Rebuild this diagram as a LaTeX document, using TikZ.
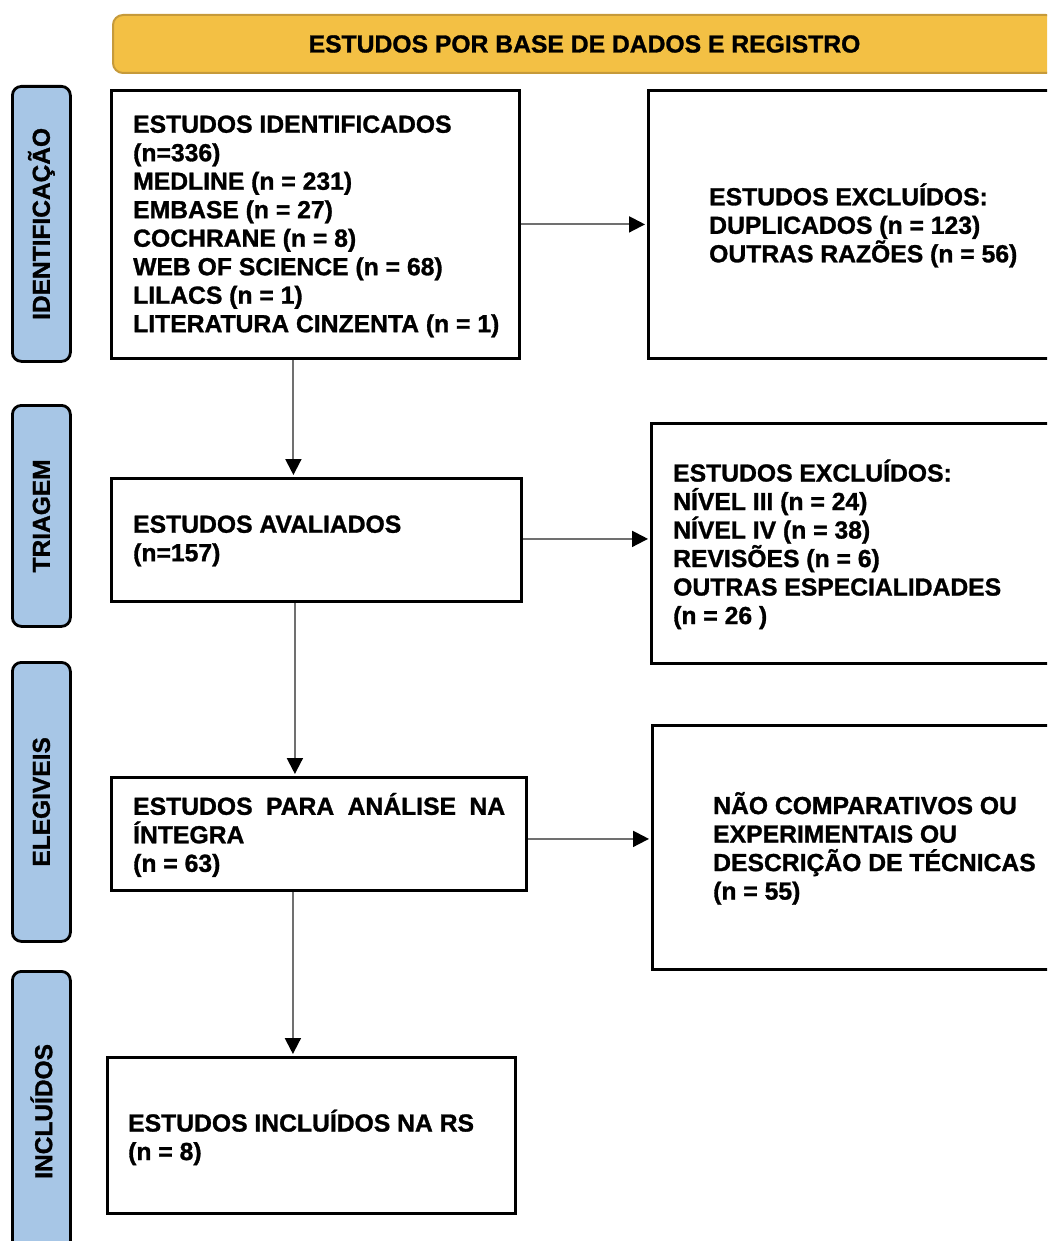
\documentclass[tikz,border=0pt]{standalone}
\usepackage{fontspec}
\setmainfont{Liberation Sans}[BoldFont={* Bold}, BoldFeatures={FakeBold=1.2}]
\usetikzlibrary{arrows.meta,positioning}
\definecolor{faixaAmarela}{RGB}{243,192,68}
\definecolor{bordaAmarela}{RGB}{198,154,58}
\definecolor{azulFase}{RGB}{167,198,230}
\definecolor{cinzaSeta}{RGB}{112,112,112}

\begin{document}
\begin{tikzpicture}[x=1pt,y=-1pt]
\tikzset{
    caixa/.style={
        rectangle, draw=black, line width=2.8pt,
        anchor=north west, inner sep=0pt
    },
    texto/.style={
        anchor=west, align=left, inner sep=0pt,
        font=\fontsize{24.7}{28.5}\selectfont\bfseries
    },
    fase/.style={
        rectangle, draw=black, line width=2.8pt, fill=azulFase,
        rounded corners=9pt, anchor=north west, inner sep=0pt,
        minimum width=58pt
    },
    rotulo/.style={
        rotate=90, inner sep=0pt,
        font=\fontsize{24.5}{28}\selectfont\bfseries
    },
    faixa/.style={
        rectangle, draw=bordaAmarela, line width=2pt, fill=faixaAmarela,
        rounded corners=10pt, anchor=north west, inner sep=0pt,
        font=\fontsize{24.7}{28}\selectfont\bfseries
    },
    seta/.style={
        draw=cinzaSeta, line width=2pt, shorten >=2pt,
        -{Triangle[length=16pt,width=16pt,color=black]}
    }
}
\clip (0,0) rectangle (1047,1241);

% Faixa do topo
\node[faixa, minimum width=943pt, minimum height=58pt] (banner) at (112,14)
    {ESTUDOS POR BASE DE DADOS E REGISTRO};

% Fases (lateral)
\node[fase, minimum height=275pt] (fase1) at (11,85)   {};
\node[fase, minimum height=221pt] (fase2) at (11,404)  {};
\node[fase, minimum height=279pt] (fase3) at (11,661)  {};
\node[fase, minimum height=280pt] (fase4) at (11,970)  {};
\node[rotulo] (rot1) at (fase1) {IDENTIFICAÇÃO};
\node[rotulo] (rot2) at (fase2) {TRIAGEM};
\node[rotulo] (rot3) at (fase3) {ELEGIVEIS};
\node[rotulo] (rot4) at (fase4) {INCLUÍDOS};

% Caixas
\node[caixa, minimum width=408pt, minimum height=268pt] (ident)   at (110,89)   {};
\node[caixa, minimum width=420pt, minimum height=268pt] (excl1)   at (647,89)   {};
\node[caixa, minimum width=410pt, minimum height=123pt] (aval)    at (110,477)  {};
\node[caixa, minimum width=420pt, minimum height=240pt] (excl2)   at (650,422)  {};
\node[caixa, minimum width=415pt, minimum height=113pt] (integra) at (110,776)  {};
\node[caixa, minimum width=420pt, minimum height=244pt] (naocomp) at (651,724)  {};
\node[caixa, minimum width=408pt, minimum height=156pt] (incl)    at (106,1056) {};

% Textos
\node[texto] (identtxt) at ([xshift=23pt,yshift=-2pt]ident.west)
    {ESTUDOS IDENTIFICADOS\\(n=336)\\MEDLINE (n = 231)\\EMBASE (n = 27)\\COCHRANE (n = 8)\\WEB OF SCIENCE (n = 68)\\LILACS (n = 1)\\LITERATURA CINZENTA (n = 1)};
\node[texto] (excl1txt) at ([xshift=62pt,yshift=-1pt]excl1.west)
    {ESTUDOS EXCLUÍDOS:\\DUPLICADOS (n = 123)\\OUTRAS RAZÕES (n = 56)};
\node[texto] (avaltxt) at ([xshift=23pt,yshift=-1pt]aval.west)
    {ESTUDOS AVALIADOS\\(n=157)};
\node[texto] (excl2txt) at ([xshift=23pt,yshift=-1pt]excl2.west)
    {ESTUDOS EXCLUÍDOS:\\NÍVEL III (n = 24)\\NÍVEL IV (n = 38)\\REVISÕES (n = 6)\\OUTRAS ESPECIALIDADES\\(n = 26 )};
\node[texto] (integratxt) at ([xshift=23pt,yshift=-1pt]integra.west)
    {\makebox[372pt][s]{ESTUDOS PARA ANÁLISE NA}\\ÍNTEGRA\\(n = 63)};
\node[texto] (naocomptxt) at ([xshift=62pt,yshift=-1pt]naocomp.west)
    {NÃO COMPARATIVOS OU\\EXPERIMENTAIS OU\\DESCRIÇÃO DE TÉCNICAS\\(n = 55)};
\node[texto] (incltxt) at ([xshift=22pt,yshift=-2pt]incl.west)
    {ESTUDOS INCLUÍDOS NA RS\\(n = 8)};

% Setas
\draw[seta] ([xshift=-22pt]ident.south) -- ([xshift=-22pt]ident.south |- aval.north);
\draw[seta] ([xshift=-21.5pt]aval.south) -- ([xshift=-21.5pt]aval.south |- integra.north);
\draw[seta] ([xshift=-26pt]integra.south) -- ([xshift=-26pt]integra.south |- incl.north);
\draw[seta] (ident) -- (excl1);
\draw[seta] ([yshift=1pt]aval.east) -- ([yshift=1pt]aval.east -| excl2.west);
\draw[seta] ([yshift=-5pt]integra.east) -- ([yshift=-5pt]integra.east -| naocomp.west);
\end{tikzpicture}
\end{document}
